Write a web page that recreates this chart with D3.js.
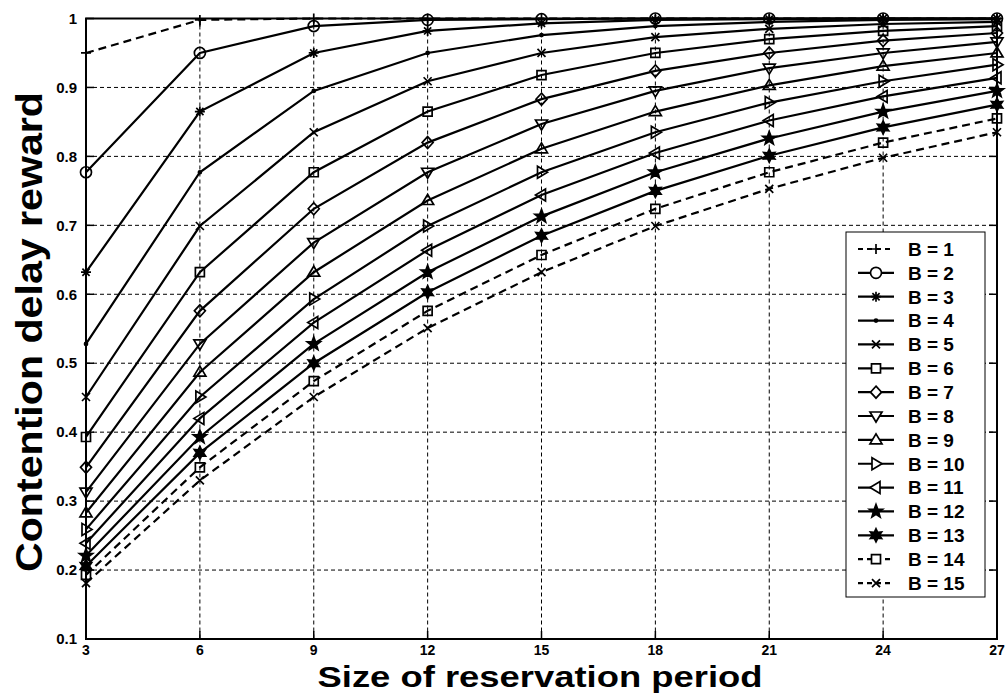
<!DOCTYPE html>
<html lang="en">
<head>
    <meta charset="UTF-8">
    <title>Contention delay reward</title>
    <script src="https://cdn.jsdelivr.net/npm/d3@7.8.4/dist/d3.min.js"></script>
    <style>
        body {
            margin: 0;
            background: #fff;
            font-family: "Liberation Sans", Arial, sans-serif;
        }
        svg {
            display: block;
        }
        .tick-label {
            font-size: 15px;
            font-weight: bold;
        }
        .x-tick {
            font-size: 14px;
        }
        .axis-title {
            font-weight: bold;
        }
        .legend text {
            font-size: 19px;
            font-weight: bold;
        }
    </style>
</head>
<body>
    <svg id="chart" width="1008" height="698"></svg>

    <script>
        // Size of reservation period
        const periods = [3, 6, 9, 12, 15, 18, 21, 24, 27];

        // Contention delay reward, one array per B
        const b1  = [0.950, 0.998, 1.000, 1.000, 1.000, 1.000, 1.000, 1.000, 1.000];
        const b2  = [0.777, 0.950, 0.989, 0.998, 0.999, 1.000, 1.000, 1.000, 1.000];
        const b3  = [0.632, 0.865, 0.950, 0.982, 0.993, 0.998, 0.999, 1.000, 1.000];
        const b4  = [0.528, 0.777, 0.895, 0.950, 0.976, 0.989, 0.995, 0.998, 0.999];
        const b5  = [0.451, 0.699, 0.835, 0.909, 0.950, 0.973, 0.985, 0.992, 0.995];
        const b6  = [0.393, 0.632, 0.777, 0.865, 0.918, 0.950, 0.970, 0.982, 0.989];
        const b7  = [0.349, 0.576, 0.724, 0.820, 0.883, 0.924, 0.950, 0.968, 0.979];
        const b8  = [0.313, 0.528, 0.675, 0.777, 0.847, 0.895, 0.928, 0.950, 0.966];
        const b9  = [0.283, 0.487, 0.632, 0.736, 0.811, 0.865, 0.903, 0.931, 0.950];
        const b10 = [0.259, 0.451, 0.593, 0.699, 0.777, 0.835, 0.878, 0.909, 0.933];
        const b11 = [0.239, 0.420, 0.559, 0.664, 0.744, 0.805, 0.852, 0.887, 0.914];
        const b12 = [0.221, 0.393, 0.528, 0.632, 0.713, 0.777, 0.826, 0.865, 0.895];
        const b13 = [0.206, 0.370, 0.500, 0.603, 0.685, 0.750, 0.801, 0.842, 0.875];
        const b14 = [0.193, 0.349, 0.474, 0.576, 0.657, 0.724, 0.777, 0.820, 0.855];
        const b15 = [0.181, 0.330, 0.451, 0.551, 0.632, 0.699, 0.753, 0.798, 0.835];

        const seriesNames = ["B = 1", "B = 2", "B = 3", "B = 4", "B = 5", "B = 6", "B = 7", "B = 8",
                             "B = 9", "B = 10", "B = 11", "B = 12", "B = 13", "B = 14", "B = 15"];
        const seriesValues = [b1, b2, b3, b4, b5, b6, b7, b8, b9, b10, b11, b12, b13, b14, b15];

        const xTicks = [3, 6, 9, 12, 15, 18, 21, 24, 27];
        const yTicks = [0.1, 0.2, 0.3, 0.4, 0.5, 0.6, 0.7, 0.8, 0.9, 1];

        // marker / line style per series (matlab style)
        const markers = ["plus", "circle", "asterisk", "point", "times", "square", "diamond",
                         "triangleDown", "triangleUp", "triangleRight", "triangleLeft",
                         "pentagram", "hexagram", "square", "times"];
        const dashed = [true, false, false, false, false, false, false, false,
                        false, false, false, false, false, true, true];

        const svg = d3.select("#chart");
        const plotLeft = 86, plotRight = 997, plotTop = 18.5, plotBottom = 639;

        const x = d3.scaleLinear().domain([3, 27]).range([plotLeft, plotRight]);
        const y = d3.scaleLinear().domain([0.1, 1]).range([plotBottom, plotTop]);

        // marker shapes as path strings centred on 0,0
        function starPath(points, outer, inner) {
            let p = [];
            for (let i = 0; i < points * 2; i++) {
                const r = i % 2 === 0 ? outer : inner;
                const a = -Math.PI / 2 + i * Math.PI / points;
                p.push([r * Math.cos(a), r * Math.sin(a)]);
            }
            return "M" + p.map(d => d[0].toFixed(2) + "," + d[1].toFixed(2)).join("L") + "Z";
        }

        function markerPath(type) {
            switch (type) {
                case "plus": return "M-5,0H5M0,-5V5";
                case "times": return "M-4,-4L4,4M-4,4L4,-4";
                case "asterisk": return "M-5,0H5M0,-5V5M-3.6,-3.6L3.6,3.6M-3.6,3.6L3.6,-3.6";
                case "point": return "M-1.5,0A1.5,1.5 0 1,0 1.5,0A1.5,1.5 0 1,0 -1.5,0Z";
                case "circle": return "M-5.5,0A5.5,5.5 0 1,0 5.5,0A5.5,5.5 0 1,0 -5.5,0Z";
                case "square": return "M-4.5,-4.5H4.5V4.5H-4.5Z";
                case "diamond": return "M0,-6L5.5,0L0,6L-5.5,0Z";
                case "triangleDown": return "M-6,-4L6,-4L0,6Z";
                case "triangleUp": return "M-6,4L6,4L0,-6Z";
                case "triangleRight": return "M-4,-6L-4,6L6,0Z";
                case "triangleLeft": return "M4,-6L4,6L-6,0Z";
                case "pentagram": return starPath(5, 7, 2.9);
                case "hexagram": return starPath(6, 6.5, 3.4);
            }
            return "";
        }

        function markerFill(type) {
            if (type === "point" || type === "pentagram" || type === "hexagram") return "#000";
            return "none";
        }

        // grid
        const grid = svg.append("g").attr("class", "grid");
        grid.selectAll(".vgrid")
            .data(xTicks.filter(d => d !== 3 && d !== 27))
            .enter().append("line")
            .attr("x1", d => x(d)).attr("x2", d => x(d))
            .attr("y1", plotTop).attr("y2", plotBottom)
            .attr("stroke", "#000").attr("stroke-width", 1)
            .attr("stroke-dasharray", "4,3");
        grid.selectAll(".hgrid")
            .data(yTicks.filter(d => d !== 0.1 && d !== 1))
            .enter().append("line")
            .attr("x1", plotLeft).attr("x2", plotRight)
            .attr("y1", d => y(d)).attr("y2", d => y(d))
            .attr("stroke", "#000").attr("stroke-width", 1)
            .attr("stroke-dasharray", "4,3");

        // axes box and inward ticks
        const axes = svg.append("g").attr("class", "axes");
        axes.append("rect")
            .attr("x", plotLeft).attr("y", plotTop)
            .attr("width", plotRight - plotLeft).attr("height", plotBottom - plotTop)
            .attr("fill", "none").attr("stroke", "#000").attr("stroke-width", 2);

        const tickLen = 8;
        xTicks.forEach(t => {
            axes.append("line").attr("x1", x(t)).attr("x2", x(t))
                .attr("y1", plotBottom).attr("y2", plotBottom - tickLen)
                .attr("stroke", "#000").attr("stroke-width", 1.5);
            axes.append("line").attr("x1", x(t)).attr("x2", x(t))
                .attr("y1", plotTop).attr("y2", plotTop + tickLen)
                .attr("stroke", "#000").attr("stroke-width", 1.5);
        });
        yTicks.forEach(t => {
            axes.append("line").attr("x1", plotLeft).attr("x2", plotLeft + tickLen)
                .attr("y1", y(t)).attr("y2", y(t))
                .attr("stroke", "#000").attr("stroke-width", 1.5);
            axes.append("line").attr("x1", plotRight).attr("x2", plotRight - tickLen)
                .attr("y1", y(t)).attr("y2", y(t))
                .attr("stroke", "#000").attr("stroke-width", 1.5);
        });

        // tick labels
        svg.append("g").selectAll("text")
            .data(xTicks)
            .enter().append("text")
            .attr("class", "tick-label x-tick")
            .attr("x", d => x(d))
            .attr("y", plotBottom + 16)
            .attr("text-anchor", "middle")
            .text(d => d);

        svg.append("g").selectAll("text")
            .data(yTicks)
            .enter().append("text")
            .attr("class", "tick-label")
            .attr("x", plotLeft - 9)
            .attr("y", d => y(d))
            .attr("dy", "0.35em")
            .attr("text-anchor", "end")
            .text(d => d === 1 ? "1" : d.toFixed(1));

        // axis titles
        svg.append("text")
            .attr("class", "axis-title")
            .attr("x", 540)
            .attr("y", 687)
            .attr("text-anchor", "middle")
            .style("font-size", "29px")
            .attr("textLength", 445)
            .attr("lengthAdjust", "spacingAndGlyphs")
            .text("Size of reservation period");

        svg.append("text")
            .attr("class", "axis-title")
            .attr("transform", "translate(42,332) rotate(-90)")
            .attr("text-anchor", "middle")
            .style("font-size", "36px")
            .attr("textLength", 480)
            .attr("lengthAdjust", "spacingAndGlyphs")
            .text("Contention delay reward");

        // series
        const line = d3.line()
            .x((d, i) => x(periods[i]))
            .y(d => y(d));

        const plot = svg.append("g").attr("class", "series");
        seriesValues.forEach((vals, s) => {
            const g = plot.append("g");
            g.append("path")
                .attr("d", line(vals))
                .attr("fill", "none")
                .attr("stroke", "#000")
                .attr("stroke-width", 2.2)
                .attr("stroke-dasharray", dashed[s] ? "8,5" : null);
            g.selectAll("path.marker")
                .data(vals)
                .enter().append("path")
                .attr("class", "marker")
                .attr("transform", (d, i) => `translate(${x(periods[i])},${y(d)})`)
                .attr("d", markerPath(markers[s]))
                .attr("fill", markerFill(markers[s]))
                .attr("stroke", "#000")
                .attr("stroke-width", 1.7);
        });

        // legend
        const lgX = 846, lgY = 232, lgW = 139, lgH = 365, rowH = 23.86;
        const legend = svg.append("g").attr("class", "legend");
        legend.append("rect")
            .attr("x", lgX).attr("y", lgY)
            .attr("width", lgW).attr("height", lgH)
            .attr("fill", "#fff").attr("stroke", "#000").attr("stroke-width", 1);

        seriesNames.forEach((name, s) => {
            const cy = lgY + 17 + s * rowH;
            legend.append("line")
                .attr("x1", 858).attr("x2", 894)
                .attr("y1", cy).attr("y2", cy)
                .attr("stroke", "#000").attr("stroke-width", 2.2)
                .attr("stroke-dasharray", dashed[s] ? "5,4" : null);
            legend.append("path")
                .attr("transform", `translate(876,${cy})`)
                .attr("d", markerPath(markers[s]))
                .attr("fill", markerFill(markers[s]) === "none" ? "#fff" : "#000")
                .attr("stroke", "#000")
                .attr("stroke-width", 1.7);
            legend.append("text")
                .attr("x", 908)
                .attr("y", cy)
                .attr("dy", "0.36em")
                .text(name);
        });
    </script>
</body>
</html>
